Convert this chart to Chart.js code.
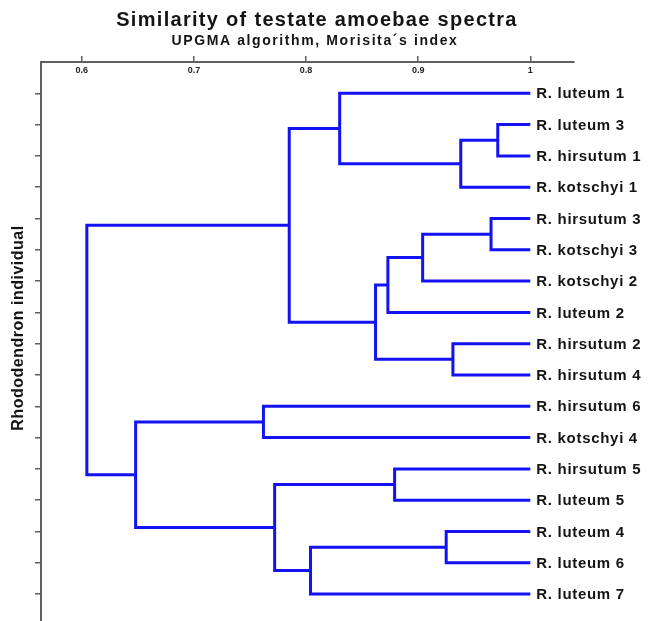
<!DOCTYPE html>
<html>
<head>
<meta charset="utf-8">
<script src="https://cdn.jsdelivr.net/npm/chart.js@4.4.0/dist/chart.umd.min.js"></script>
<style>
  html, body { margin: 0; padding: 0; background: #fff; }
  #wrap { width: 660px; height: 621px; position: relative; }
  canvas { display: block; }
</style>
</head>
<body>
<div id="wrap"><canvas id="c" width="660" height="621"></canvas></div>
<script>
// ---- data ----
const titleText = 'Similarity of testate amoebae spectra';
const subtitleText = 'UPGMA algorithm, Morisita\u00B4s index';
const yAxisTitle = 'Rhododendron individual';

const leafLabels = [
  'R. luteum 1', 'R. luteum 3', 'R. hirsutum 1', 'R. kotschyi 1',
  'R. hirsutum 3', 'R. kotschyi 3', 'R. kotschyi 2', 'R. luteum 2',
  'R. hirsutum 2', 'R. hirsutum 4', 'R. hirsutum 6', 'R. kotschyi 4',
  'R. hirsutum 5', 'R. luteum 5', 'R. luteum 4', 'R. luteum 6', 'R. luteum 7'
];
const leafSimilarity = 1.0;

// UPGMA merges: ids < 17 are leaves, id 17+k is merge k
const mergeLeft  = [1, 4, 3, 8, 14, 18, 12, 22, 24, 0, 21, 26, 23, 10, 30, 28];
const mergeRight = [2, 5, 17, 9, 15, 6, 13, 7, 20, 19, 16, 25, 27, 11, 29, 31];
const mergeSimilarity = [0.971, 0.965, 0.938, 0.931, 0.925, 0.904, 0.879, 0.873,
                         0.862, 0.830, 0.804, 0.785, 0.772, 0.762, 0.648, 0.6045];

const xTickValues = [0.6, 0.7, 0.8, 0.9, 1.0];
const xTickLabels = ['0.6', '0.7', '0.8', '0.9', '1'];

// ---- build link datasets ----
const nLeaves = leafLabels.length;
const nodeX = [], nodeY = [];
for (let i = 0; i < nLeaves; i++) { nodeX.push(leafSimilarity); nodeY.push(i + 1); }
const lineColor = '#1212f2';
const datasets = [];
for (let k = 0; k < mergeSimilarity.length; k++) {
  const a = mergeLeft[k], b = mergeRight[k], h = mergeSimilarity[k];
  datasets.push({
    data: [
      { x: nodeX[a], y: nodeY[a] },
      { x: h, y: nodeY[a] },
      { x: h, y: nodeY[b] },
      { x: nodeX[b], y: nodeY[b] }
    ],
    showLine: true,
    borderColor: lineColor,
    borderWidth: 3,
    pointRadius: 0,
    tension: 0,
    fill: false,
    borderJoinStyle: 'miter'
  });
  nodeX.push(h);
  nodeY.push((nodeY[a] + nodeY[b]) / 2);
}

const FONT = '"Liberation Sans", Arial, Helvetica, sans-serif';

const textPlugin = {
  id: 'dendroText',
  afterDraw(chart) {
    const ctx = chart.ctx;
    const xs = chart.scales.x, ys = chart.scales.y;
    ctx.save();
    ctx.fillStyle = '#141414';
    ctx.textBaseline = 'middle';
    ctx.textAlign = 'center';
    ctx.font = 'bold 20px ' + FONT;
    if ('letterSpacing' in ctx) ctx.letterSpacing = '1.3px';
    ctx.fillText(titleText, 317, 20);
    ctx.font = 'bold 14px ' + FONT;
    if ('letterSpacing' in ctx) ctx.letterSpacing = '1.6px';
    ctx.fillText(subtitleText, 315, 41);
    // y-axis title
    ctx.save();
    ctx.translate(19, 328);
    ctx.rotate(-Math.PI / 2);
    ctx.font = 'bold 16px ' + FONT;
    if ('letterSpacing' in ctx) ctx.letterSpacing = '0.5px';
    ctx.fillText(yAxisTitle, 0, 0);
    ctx.restore();
    // leaf labels
    ctx.textAlign = 'left';
    ctx.font = 'bold 15px ' + FONT;
    if ('letterSpacing' in ctx) ctx.letterSpacing = '0.7px';
    const lx = xs.getPixelForValue(leafSimilarity) + 6;
    leafLabels.forEach((lab, i) => {
      ctx.fillText(lab, lx, ys.getPixelForValue(i + 1) + 1);
    });
    ctx.restore();
  }
};

new Chart(document.getElementById('c'), {
  type: 'scatter',
  data: { datasets },
  plugins: [textPlugin],
  options: {
    responsive: false,
    animation: false,
    devicePixelRatio: 1,
    layout: { padding: { top: 50, right: 86, bottom: 0, left: 0 } },
    plugins: { legend: { display: false }, tooltip: { enabled: false }, title: { display: false } },
    scales: {
      x: {
        type: 'linear',
        position: 'top',
        min: 0.5636,
        max: 1.039,
        afterBuildTicks: (s) => { s.ticks = xTickValues.map(v => ({ value: v })); },
        afterFit: (s) => { s.height = 12; },
        ticks: {
          mirror: true,
          padding: 3,
          autoSkip: false,
          maxRotation: 0,
          color: '#222',
          font: { size: 9, weight: 'bold', family: FONT },
          callback: (v) => xTickLabels[xTickValues.indexOf(v)]
        },
        grid: { drawOnChartArea: false, drawTicks: true, tickLength: 6, color: '#5f5f5f', lineWidth: 1.5 },
        border: { display: true, color: '#5f5f5f', width: 2 }
      },
      y: {
        type: 'linear',
        position: 'left',
        reverse: true,
        min: 0,
        max: 17.86,
        afterBuildTicks: (s) => { s.ticks = leafLabels.map((_, i) => ({ value: i + 1 })); },
        afterFit: (s) => { s.width = 41; },
        ticks: { display: false },
        grid: { drawOnChartArea: false, drawTicks: true, tickLength: 6, color: '#5f5f5f', lineWidth: 1.5 },
        border: { display: true, color: '#5f5f5f', width: 2 },
        title: { display: false }
      }
    }
  }
});
</script>
</body>
</html>
